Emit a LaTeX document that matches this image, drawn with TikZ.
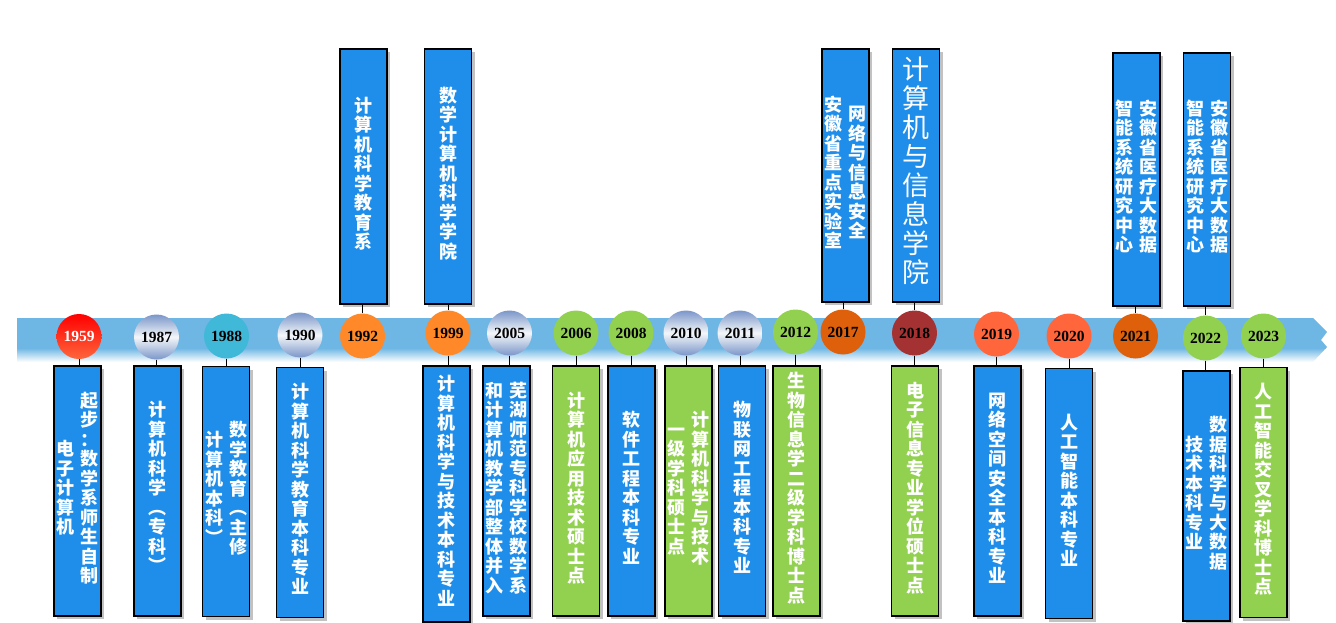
\documentclass[tikz,border=0pt]{standalone}
\usepackage{fontspec}
\setmainfont{Liberation Serif}
\newfontfamily\cjk{Noto Sans CJK SC}
\usetikzlibrary{shadows}
\definecolor{bandblue}{RGB}{110,182,228}
\definecolor{boxblue}{RGB}{30,142,234}
\definecolor{boxgreen}{RGB}{146,208,80}
\definecolor{silvblue}{RGB}{122,150,200}
\definecolor{silvmid}{RGB}{244,247,250}
\definecolor{teal}{RGB}{64,184,216}
\definecolor{orng}{RGB}{255,136,40}
\definecolor{dorng}{RGB}{222,96,10}
\definecolor{dred}{RGB}{165,50,50}
\definecolor{coral}{RGB}{255,102,60}
\newcommand\vc[1]{\begin{tabular}{@{}c@{}}\vcx#1\relax\end{tabular}}
\def\vcx#1#2{\smash{#1}\ifx\relax#2\expandafter\vcend\else\expandafter\vcnext\fi{#2}}
\def\vcend#1{}
\def\vcnext#1{\\\vcx#1}
\tikzset{
  yr/.style={circle, minimum size=45pt, inner sep=0pt, font=\bfseries\fontsize{15.5}{15.5}\selectfont},
  silver/.style={yr, top color=silvblue, bottom color=silvblue, middle color=silvmid},
  box/.style={draw=black, line width=1.6pt, minimum width=47pt, minimum height=250pt, inner sep=0pt,
    text=white, font=\cjk\bfseries\fontsize{18}{19.5}\selectfont,
    drop shadow={shadow xshift=3pt, shadow yshift=-3pt, fill=black!60, opacity=.4}},
  bbox/.style={box, fill=boxblue},
  gbox/.style={box, fill=boxgreen},
  conn/.style={draw=black, line width=0.8pt}
}
\begin{document}
\begin{tikzpicture}[x=1pt,y=-1pt]
\useasboundingbox (0,0) rectangle (1336,623);
\begin{scope}
  \clip (17,318) -- (1313,318) -- (1327,332) -- (1321,340) -- (1327,347) -- (1313,362) -- (17,362) -- cycle;
  \fill[bandblue] (17,318) rectangle (1330,349);
  \shade[top color=bandblue, bottom color=white] (17,348) rectangle (1330,362);
\end{scope}

\node[yr, top color=red, bottom color=coral, text=white] (y1959) at (79,336.5) {1959};
\node[silver] (y1987) at (156.5,337) {1987};
\node[yr, fill=teal] (y1988) at (226.5,336) {1988};
\node[silver] (y1990) at (300,335) {1990};
\node[yr, fill=orng] (y1992) at (362.5,336) {1992};
\node[yr, fill=orng] (y1999) at (448,333) {1999};
\node[silver] (y2005) at (509.5,333) {2005};
\node[yr, fill=boxgreen] (y2006) at (576,333) {2006};
\node[yr, fill=boxgreen] (y2008) at (631,333) {2008};
\node[silver] (y2010) at (686,333) {2010};
\node[silver] (y2011) at (740,333) {2011};
\node[yr, fill=boxgreen] (y2012) at (795.5,332) {2012};
\node[yr, fill=dorng] (y2017) at (843,332) {2017};
\node[yr, fill=dred] (y2018) at (914.5,333) {2018};
\node[yr, fill=coral] (y2019) at (996.5,334) {2019};
\node[yr, fill=coral] (y2020) at (1069,336) {2020};
\node[yr, fill=dorng] (y2021) at (1135.5,336) {2021};
\node[yr, fill=boxgreen] (y2022) at (1205.5,338) {2022};
\node[yr, fill=boxgreen] (y2023) at (1263.5,336) {2023};

\node[bbox] (b1959) at (77.5,491) {\vc{电子计算机}\hspace{6pt}\vc{起步：数学系师生自制}};
\node[bbox] (b1987) at (157.5,491) {\vc{计算机科学︵专科︶}};
\node[bbox] (b1988) at (226,491.5) {\vc{计算机本科︶}\hspace{6pt}\vc{数学教育︵主修}};
\node[bbox] (b1990) at (300,492.5) {\vc{计算机科学教育本科专业}};
\node[bbox, minimum height=256pt] (b1999) at (446.5,494) {\vc{计算机科学与技术本科专业}};
\node[bbox] (b2005) at (506.5,491) {\vc{和计算机教学部整体并入}\hspace{6pt}\vc{芜湖师范专科学校数学系}};
\node[gbox] (b2006) at (576,491) {\vc{计算机应用技术硕士点}};
\node[bbox] (b2008) at (631.5,491) {\vc{软件工程本科专业}};
\node[gbox] (b2010) at (688.5,491) {\vc{一级学科硕士点}\hspace{6pt}\vc{计算机科学与技术}};
\node[bbox] (b2011) at (742,491) {\vc{物联网工程本科专业}};
\node[gbox] (b2012) at (796.5,491) {\vc{生物信息学二级学科博士点}};
\node[gbox] (b2018) at (915,491) {\vc{电子信息专业学位硕士点}};
\node[bbox] (b2019) at (997.5,491) {\vc{网络空间安全本科专业}};
\node[bbox] (b2020) at (1069,493.5) {\vc{人工智能本科专业}};
\node[bbox] (b2022) at (1206.5,496) {\vc{技术本科专业}\hspace{6pt}\vc{数据科学与大数据}};
\node[gbox] (b2023) at (1263.5,492.5) {\vc{人工智能交叉学科博士点}};

\node[bbox, minimum height=255pt] (t1992) at (363.5,176.5) {\vc{计算机科学教育系}};
\node[bbox, minimum height=255pt] (t1999) at (448,176.5) {\vc{数学计算机科学学院}};
\node[bbox, minimum height=253pt] (t2017) at (845.5,175.5) {\vc{安徽省重点实验室}\hspace{6pt}\vc{网络与信息安全}};
\node[bbox, minimum height=253pt, font=\cjk\fontsize{27}{29}\selectfont] (t2018) at (916,175.5) {\vc{计算机与信息学院}};
\node[bbox, minimum height=253pt] (t2021) at (1136.5,179.5) {\vc{智能系统研究中心}\hspace{6pt}\vc{安徽省医疗大数据}};
\node[bbox, minimum height=253pt] (t2022) at (1207,179.5) {\vc{智能系统研究中心}\hspace{6pt}\vc{安徽省医疗大数据}};

\foreach \n in {1959,1987,1988,1990,1999,2005,2006,2008,2010,2011,2012,2018,2019,2020,2022,2023}
  \draw[conn] (y\n.south) -- (y\n.south |- b\n.north);
\foreach \n in {1992,1999,2017,2018,2021,2022}
  \draw[conn] (y\n.north) -- (y\n.north |- t\n.south);
\end{tikzpicture}
\end{document}
